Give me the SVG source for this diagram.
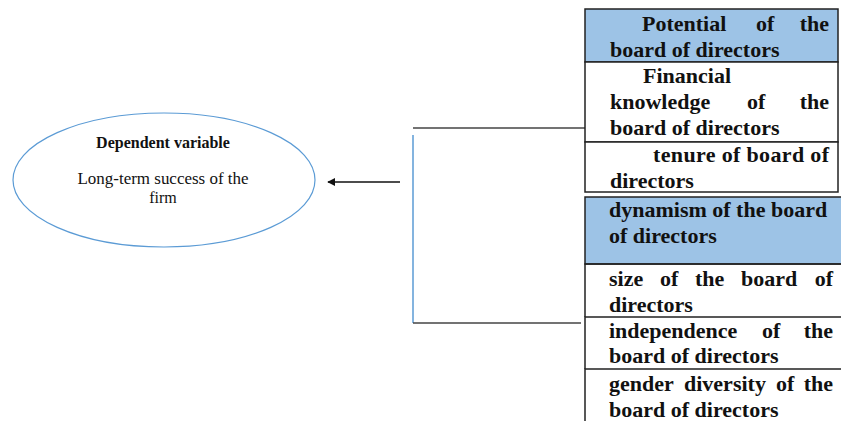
<svg xmlns="http://www.w3.org/2000/svg" width="841" height="421" viewBox="0 0 841 421">
<defs>
<style>
.t{font-family:"Liberation Serif","Times New Roman",serif;font-weight:bold;font-size:22px;fill:#111;}
.e{font-family:"Liberation Serif","Times New Roman",serif;font-size:16px;fill:#111;text-anchor:middle;}
.cell{stroke:#222;stroke-width:1.5;}
.line{stroke:#222;stroke-width:1.5;fill:none;}
.blue{fill:#9DC3E6;}
.white{fill:#fff;}
.conn{stroke:#444;stroke-width:1.5;fill:none;}
</style>
<marker id="ah" viewBox="0 0 10 10" refX="9" refY="5" markerWidth="8" markerHeight="8" orient="auto" markerUnits="userSpaceOnUse">
<path d="M0,0 L10,5 L0,10 z" fill="#111"/>
</marker>
</defs>
<rect width="841" height="421" fill="#fff"/>

<g id="dependent">
<ellipse cx="164" cy="180" rx="151" ry="67" fill="#fff" stroke="#5B9BD5" stroke-width="1.2"/>
<text class="e" x="163" y="148" font-weight="bold" font-size="16.5">Dependent variable</text>
<text class="e" x="163" y="184" textLength="171" lengthAdjust="spacingAndGlyphs">Long-term success of the</text>
<text class="e" x="163" y="203">firm</text>
</g>

<g id="connectors">
<line class="conn" x1="413" y1="128" x2="587" y2="128"/>
<line x1="413" y1="135" x2="413" y2="323" stroke="#5B9BD5" stroke-width="1.5"/>
<line class="conn" x1="413" y1="323" x2="581" y2="323"/>
<line x1="400" y1="182" x2="328" y2="182" stroke="#111" stroke-width="1.5" marker-end="url(#ah)"/>
</g>

<g id="potential">
<rect class="cell blue" x="585" y="9" width="253" height="53"/>
<text class="t" x="642" y="31">Potential</text>
<text class="t" x="756" y="31">of</text>
<text class="t" x="829" y="31" text-anchor="end">the</text>
<text class="t" x="610" y="57">board of directors</text>
</g>

<g id="financial">
<rect class="cell white" x="585" y="62" width="253" height="80"/>
<text class="t" x="643" y="83">Financial</text>
<text class="t" x="610" y="109">knowledge</text>
<text class="t" x="747" y="109">of</text>
<text class="t" x="829" y="109" text-anchor="end">the</text>
<text class="t" x="610" y="135">board of directors</text>
</g>

<g id="tenure">
<rect class="cell white" x="585" y="142" width="253" height="50"/>
<text class="t" x="653" y="162" textLength="176" lengthAdjust="spacing">tenure of board of</text>
<text class="t" x="610" y="188">directors</text>
</g>

<g id="dynamism">
<rect class="cell blue" x="585" y="197" width="260" height="67"/>
<text class="t" x="609" y="217">dynamism of the board</text>
<text class="t" x="609" y="243">of directors</text>
</g>

<g id="size">
<path class="line" d="M845,264 H585 V317"/>
<text class="t" x="609" y="286">size</text>
<text class="t" x="660" y="286">of</text>
<text class="t" x="695" y="286">the</text>
<text class="t" x="741" y="286">board</text>
<text class="t" x="833" y="286" text-anchor="end">of</text>
<text class="t" x="609" y="312">directors</text>
</g>

<g id="independence">
<path class="line" d="M845,317 H585 V369"/>
<text class="t" x="609" y="338">independence</text>
<text class="t" x="762" y="338">of</text>
<text class="t" x="833" y="338" text-anchor="end">the</text>
<text class="t" x="609" y="363">board of directors</text>
</g>

<g id="gender">
<path class="line" d="M845,369 H585 V425"/>
<text class="t" x="609" y="391">gender</text>
<text class="t" x="684" y="391">diversity</text>
<text class="t" x="776" y="391">of</text>
<text class="t" x="833" y="391" text-anchor="end">the</text>
<text class="t" x="609" y="417">board of directors</text>
</g>
</svg>
